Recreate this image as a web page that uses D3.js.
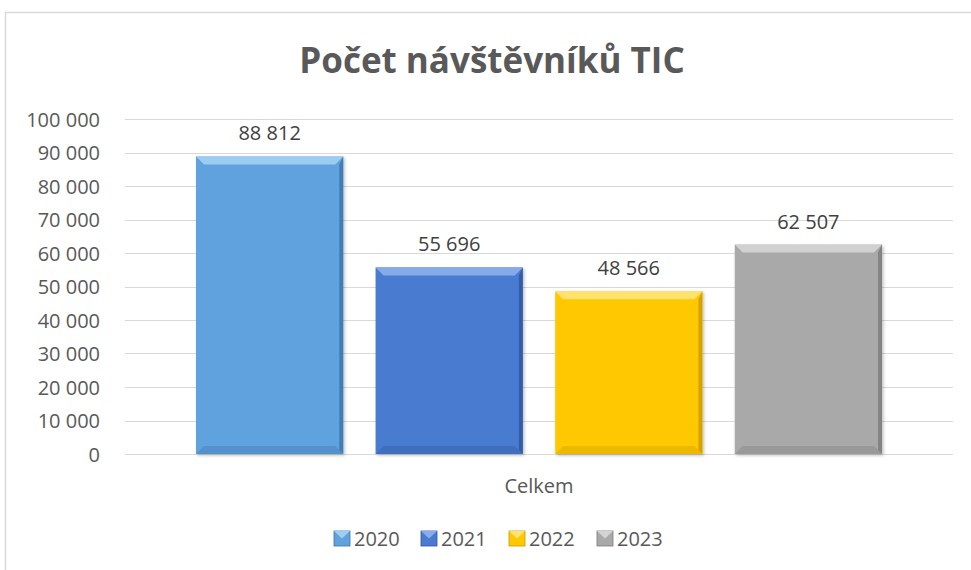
<!DOCTYPE html>
<html>
<head>
<meta charset="utf-8">
<script src="https://cdn.jsdelivr.net/npm/d3@7"></script>
<style>
body{margin:0;background:#fff;}
svg{display:block;font-family:"Open Sans",sans-serif;}
</style>
</head>
<body>
<svg id="chart" width="971" height="570"></svg>
<script>
// data
const years=['2020','2021','2022','2023'];
const values=[88812,55696,48566,62507];
const category=['Celkem'];
const yTicks=[0,10000,20000,30000,40000,50000,60000,70000,80000,90000,100000];
const colors=['#5fa2dd','#4a7bd0','#ffc800','#a9a9a9'];
const darker=['#3f74a8','#2f559e','#c99a00','#7b7b7b'];
const lighter=['#a6d3f5','#8fb3ec','#ffe680','#d8d8d8'];

const svg=d3.select('#chart');
const W=971,H=570;
const m={top:119,left:125,right:18,bottom:116};

// outer frame
svg.append('path').attr('d','M5.5,570 L5.5,12.5 L971,12.5')
  .attr('fill','none').attr('stroke','#d9d9d9').attr('stroke-width',1.5);

svg.append('text').attr('x',492).attr('y',73).attr('text-anchor','middle')
  .attr('font-size',35).attr('font-weight','bold').attr('fill','#595959')
  .text('Počet návštěvníků TIC');

const y=d3.scaleLinear().domain([0,100000]).range([H-m.bottom,m.top]);
const x0=d3.scaleBand().domain(category).range([m.left,W-m.right]).paddingInner(0).paddingOuter(0);
const x1=d3.scaleBand().domain(years).range([x0('Celkem')+71,x0('Celkem')+x0.bandwidth()-71]).paddingInner(0.18).paddingOuter(0);

const fmt=v=>d3.format(',')(v).replace(/,/g,' ');

// grid
svg.append('g').selectAll('line').data(yTicks).join('line')
  .attr('x1',m.left).attr('x2',W-m.right)
  .attr('y1',d=>Math.round(y(d))+0.5).attr('y2',d=>Math.round(y(d))+0.5)
  .attr('stroke','#d9d9d9').attr('stroke-width',1.2);

const yAxis=svg.append('g').attr('transform',`translate(${m.left-22},0)`)
  .call(d3.axisLeft(y).tickValues(yTicks).tickSize(0).tickFormat(fmt));
yAxis.select('.domain').remove();
yAxis.selectAll('text').attr('font-size',20).attr('fill','#595959')
  .attr('font-family','"Open Sans",sans-serif').attr('dy','0.35em');

const defs=svg.append('defs');
const f=defs.append('filter').attr('id','sh').attr('x','-10%').attr('y','-10%').attr('width','130%').attr('height','130%');
f.append('feDropShadow').attr('dx',1.5).attr('dy',1.5).attr('stdDeviation',1.5).attr('flood-color','#000').attr('flood-opacity',0.25);

const bars=svg.append('g').selectAll('g').data(years).join('g');
bars.each(function(yr,i){
  const g=d3.select(this);
  const bx=x1(yr),bw=x1.bandwidth(),by=y(values[i]),by0=y(0),bh=by0-by;
  const b=8;
  g.append('rect').attr('x',bx).attr('y',by).attr('width',bw).attr('height',bh)
    .attr('fill',colors[i]).attr('filter','url(#sh)');
  // top bevel
  g.append('path').attr('d',`M${bx},${by}L${bx+bw},${by}L${bx+bw-b},${by+b}L${bx+b},${by+b}Z`)
    .attr('fill',lighter[i]).attr('opacity',0.85);
  // right bevel
  g.append('path').attr('d',`M${bx+bw},${by}L${bx+bw},${by0}L${bx+bw-b*0.5},${by0-b*0.5}L${bx+bw-b*0.5},${by+b}Z`)
    .attr('fill',darker[i]).attr('opacity',0.8);
  // bottom bevel
  g.append('path').attr('d',`M${bx},${by0}L${bx+bw},${by0}L${bx+bw-b},${by0-b}L${bx+b},${by0-b}Z`)
    .attr('fill',darker[i]).attr('opacity',0.35);
  g.append('text').attr('x',bx+bw/2).attr('y',by-16).attr('text-anchor','middle')
    .attr('font-size',20).attr('fill','#404040').text(fmt(values[i]));
});

svg.append('text').attr('x',x0('Celkem')+x0.bandwidth()/2).attr('y',493).attr('text-anchor','middle')
  .attr('font-size',20).attr('fill','#595959').text(category[0]);

// legend
const lx=[334,421,509,597];
const leg=svg.append('g').selectAll('g').data(years).join('g')
  .attr('transform',(d,i)=>`translate(${lx[i]},531)`);
leg.append('rect').attr('width',16).attr('height',15).attr('fill',(d,i)=>colors[i])
  .attr('stroke',(d,i)=>darker[i]).attr('stroke-width',0.8);
leg.append('path').attr('d','M0,0L16,0L8,7.5Z').attr('fill',(d,i)=>lighter[i]).attr('opacity',0.9);
leg.append('text').attr('x',20).attr('y',15).attr('font-size',20).attr('fill','#595959').text(d=>d);
</script>
</body>
</html>
